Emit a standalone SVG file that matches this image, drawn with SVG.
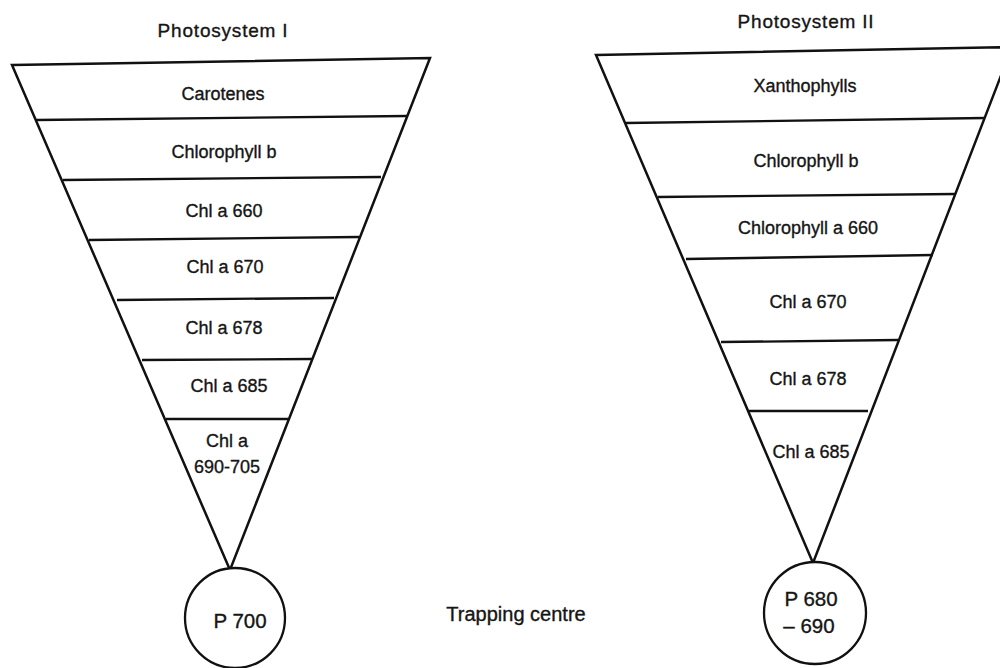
<svg xmlns="http://www.w3.org/2000/svg" width="1000" height="668" viewBox="0 0 1000 668">
  <style>
    .edge { fill: none; stroke: #111; stroke-width: 2.5; stroke-linejoin: miter; }
    .band { stroke: #111; stroke-width: 2.3; }
    .ring { fill: #fff; stroke: #111; stroke-width: 2.3; }
    text { font-family: "Liberation Sans", Arial, sans-serif; fill: #151515; stroke: #151515; stroke-width: 0.35; text-anchor: middle; }
    .title { font-size: 19px; letter-spacing: 0.8px; }
    .lbl { font-size: 18px; }
    .core { font-size: 20.5px; }
    .note { font-size: 20px; }
  </style>
  <rect width="1000" height="668" fill="#fff"/>

  <!-- Photosystem I funnel -->
  <g id="ps1">
    <text class="title" x="223" y="37">Photosystem I</text>
    <polygon class="edge" points="12,65 430,58 230,570"/>
    <line class="band" x1="36" y1="120" x2="407" y2="116"/>
    <line class="band" x1="63" y1="180" x2="381" y2="177"/>
    <line class="band" x1="89" y1="240" x2="359" y2="237"/>
    <line class="band" x1="117" y1="300" x2="334" y2="298"/>
    <line class="band" x1="142" y1="360" x2="312" y2="359"/>
    <line class="band" x1="166" y1="419" x2="288" y2="419"/>
    <text class="lbl" x="223" y="100">Carotenes</text>
    <text class="lbl" x="224" y="158">Chlorophyll b</text>
    <text class="lbl" x="224" y="217">Chl a 660</text>
    <text class="lbl" x="225" y="273">Chl a 670</text>
    <text class="lbl" x="224" y="334">Chl a 678</text>
    <text class="lbl" x="229" y="392">Chl a 685</text>
    <text class="lbl" x="227" y="447">Chl a</text>
    <text class="lbl" x="227" y="473">690-705</text>
  </g>

  <!-- Photosystem II funnel -->
  <g id="ps2">
    <text class="title" x="806" y="28">Photosystem II</text>
    <polygon class="edge" points="596,55 1012,47 813,563"/>
    <line class="band" x1="626" y1="123" x2="985" y2="118"/>
    <line class="band" x1="658" y1="197" x2="956" y2="194"/>
    <line class="band" x1="686" y1="259" x2="933" y2="255"/>
    <line class="band" x1="721" y1="342" x2="898" y2="340"/>
    <line class="band" x1="749" y1="411" x2="868" y2="411"/>
    <text class="lbl" x="805" y="92">Xanthophylls</text>
    <text class="lbl" x="806" y="167">Chlorophyll b</text>
    <text class="lbl" x="808" y="234">Chlorophyll a 660</text>
    <text class="lbl" x="808" y="308">Chl a 670</text>
    <text class="lbl" x="808" y="385">Chl a 678</text>
    <text class="lbl" x="811" y="458">Chl a 685</text>
  </g>

  <!-- reaction centres -->
  <g id="p700">
    <circle class="ring" cx="235" cy="618" r="50"/>
    <text class="core" x="240" y="628">P 700</text>
  </g>
  <g id="p680">
    <circle class="ring" cx="815" cy="613" r="51"/>
    <text class="core" x="811" y="606">P 680</text>
    <text class="core" x="809" y="633">– 690</text>
  </g>

  <g id="trapping-label">
    <text class="note" x="516" y="621">Trapping centre</text>
  </g>
</svg>
